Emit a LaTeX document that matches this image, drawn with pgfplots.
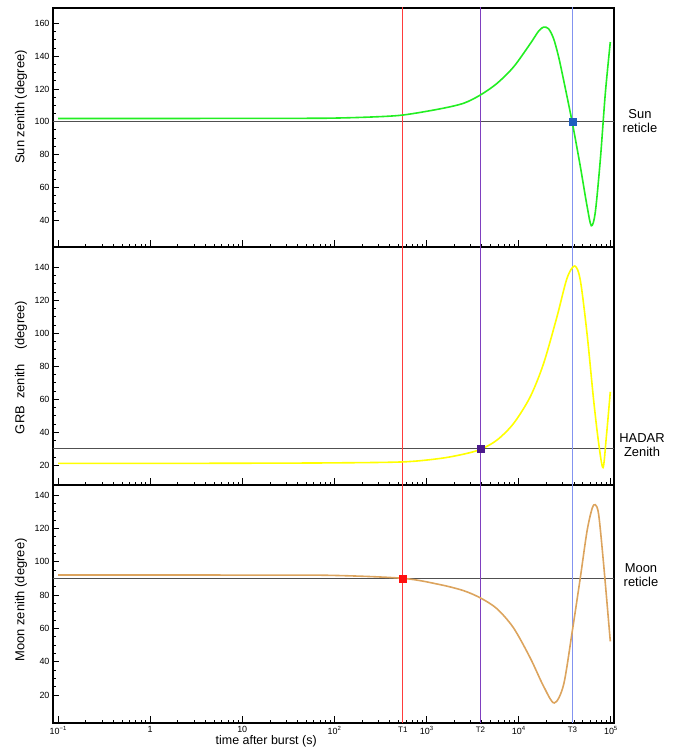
\documentclass[border=0pt]{standalone}
\usepackage{pgfplots}
\pgfplotsset{compat=1.18}
\usepackage{fontspec}
\setmainfont{Liberation Sans}

\definecolor{sungreen}{HTML}{22EE22}
\definecolor{grbyellow}{HTML}{FFFF00}
\definecolor{moontan}{HTML}{DCA45E}
\definecolor{tone}{HTML}{FF3B3B}
\definecolor{ttwo}{HTML}{7F3FBF}
\definecolor{tthree}{HTML}{8393F0}
\definecolor{mkblue}{HTML}{1F5FBF}
\definecolor{mkpurple}{HTML}{4B1A8C}
\definecolor{mkred}{HTML}{FF1010}
\definecolor{refline}{HTML}{505050}

\newcommand{\ex}[1]{10\raisebox{0.42em}{\fontsize{6}{6}\selectfont #1}}

\pgfplotsset{
  mypanel/.style={
    scale only axis,
    width=561bp,
    xmin=0.0882, xmax=108700,
    axis line style={line width=1.1bp},
    tick style={black, line width=0.9bp},
    major tick length=6.5bp,
    minor tick length=3.3bp,
    tick align=inside,
    tick pos=left,
    xtick={0.1,1,10,100,1000,10000,100000},
    minor y tick num=3,
    ticklabel style={font=\fontsize{9}{10}\selectfont},
    ylabel style={font=\fontsize{13}{15}\selectfont, anchor=center, rotate=0},
  },
  vlinea/.style={color=tone, line width=1bp},
  vlineb/.style={color=ttwo, line width=1.1bp},
  vlinec/.style={color=tthree, line width=1.2bp},
  hline/.style={color=refline, line width=0.8bp},
  mycurve/.style={line width=1.6bp, smooth, tension=0.5},
}

\begin{document}
\begin{tikzpicture}
\useasboundingbox (0,0) rectangle (689bp,748bp);

% ---------------- Top: Sun ----------------
\begin{axis}[xmode=log, mypanel,
  /pgf/number format/assume math mode=true,
  at={(53bp,501bp)}, anchor=south west, height=239bp,
  ymin=23.5, ymax=169.5,
  ytick={40,60,...,160},
  xticklabels={},
  ylabel={Sun zenith (degree)},
  ylabel style={at={(axis description cs:-0.057,0.586)}},
]
\addplot[hline] coordinates {(0.05,100) (200000,100)};
\addplot[vlinea] coordinates {(555,0) (555,200)};
\addplot[vlineb] coordinates {(3865,0) (3865,200)};
\addplot[vlinec] coordinates {(38500,0) (38500,200)};
\addplot[mycurve, color=sungreen] coordinates {
(0.1,102.0) (1,102.0) (10,102.05) (30,102.1) (89.7,102.2) (250,102.9) (553,104.1)
(1409,107.9) (2529,111.3) (3864,116.4) (5821,123.4) (8831,133.5) (13397,147.7)
(16520,155.4) (18707,157.8) (21184,156.8) (24044,150.7) (27227,139.6) (30832,125.5)
(38282,99.6) (46774,72.9) (55335,48.7) (61660,36.5) (68077,44.7) (77268,77.0)
(87498,117.4) (99083,148.7)};
\addplot[only marks, mark=square*, mark size=3.6bp, color=mkblue] coordinates {(38500,100)};
\end{axis}

% ---------------- Middle: GRB ----------------
\begin{axis}[xmode=log, mypanel,
  /pgf/number format/assume math mode=true,
  at={(53bp,263bp)}, anchor=south west, height=238bp,
  ymin=8, ymax=152.3,
  ytick={20,40,...,140},
  xticklabels={},
  ylabel={GRB\ \ zenith\ \ \ \ (degree)},
  ylabel style={at={(axis description cs:-0.057,0.494)}},
]
\addplot[hline] coordinates {(0.05,30) (200000,30)};
\addplot[vlinea] coordinates {(555,0) (555,200)};
\addplot[vlineb] coordinates {(3865,0) (3865,200)};
\addplot[vlinec] coordinates {(38500,0) (38500,200)};
\addplot[mycurve, color=grbyellow] coordinates {
(0.1,21.1) (1,21.1) (10,21.2) (89.7,21.4) (553,22.0) (1409,24.1) (2529,26.7)
(3864,29.6) (5821,35.2) (8831,45.3) (13397,61.5) (18707,81.7) (26122,110.0)
(33574,133.3) (40644,140.8) (46774,132.3) (55335,100.0) (65313,59.5) (74131,33.2)
(82604,18.6) (89744,37.2) (99083,64.5)};
\addplot[only marks, mark=square*, mark size=3.6bp, color=mkpurple] coordinates {(3865,30)};
\end{axis}

% ---------------- Bottom: Moon ----------------
\begin{axis}[xmode=log, mypanel,
  /pgf/number format/assume math mode=true,
  at={(53bp,25bp)}, anchor=south west, height=238bp,
  ymin=3.2, ymax=146,
  ytick={20,40,...,140},
  xticklabels={\ex{−1},1,10,\ex{2},\ex{3},\ex{4},\ex{5}},
  extra x ticks={555,3865,38500},
  extra x tick labels={T1,T2,T3},
  extra x tick style={major tick length=0pt, ticklabel style={font=\fontsize{8}{9}\selectfont}},
  ylabel={Moon zenith (degree)},
  ylabel style={at={(axis description cs:-0.057,0.517)}},
  xlabel={time after burst (s)},
  xlabel style={font=\fontsize{12.5}{14}\selectfont, inner sep=0pt, at={(axis description cs:0.38,0)}, anchor=center, yshift=-18.5bp},
]
\addplot[hline] coordinates {(0.05,90) (200000,90)};
\addplot[vlinea] coordinates {(555,0) (555,200)};
\addplot[vlineb] coordinates {(3865,0) (3865,200)};
\addplot[vlinec] coordinates {(38500,0) (38500,200)};
\addplot[mycurve, color=moontan] coordinates {
(0.1,92.0) (1,92.0) (10,91.95) (89.7,91.8) (553,90.0) (1409,86.2) (2529,82.6)
(3864,78.2) (5821,71.8) (8831,60.2) (13397,42.2) (18707,25.2) (24434,15.2)
(30832,26.2) (38282,58.2) (46774,90.2) (55335,118.2) (62803,131.8) (68077,134.2)
(74131,128.2) (83946,98.2) (99083,52.2)};
\addplot[only marks, mark=square*, mark size=3.6bp, color=mkred] coordinates {(555,90)};
\end{axis}

% right-hand labels
\node[align=center, font=\fontsize{13}{14}\selectfont] at (640bp,627bp) {Sun\\reticle};
\node[align=center, font=\fontsize{13}{14}\selectfont] at (642bp,302.5bp) {HADAR\\Zenith};
\node[align=center, font=\fontsize{13}{14}\selectfont] at (641bp,173bp) {Moon\\reticle};
\end{tikzpicture}
\end{document}
